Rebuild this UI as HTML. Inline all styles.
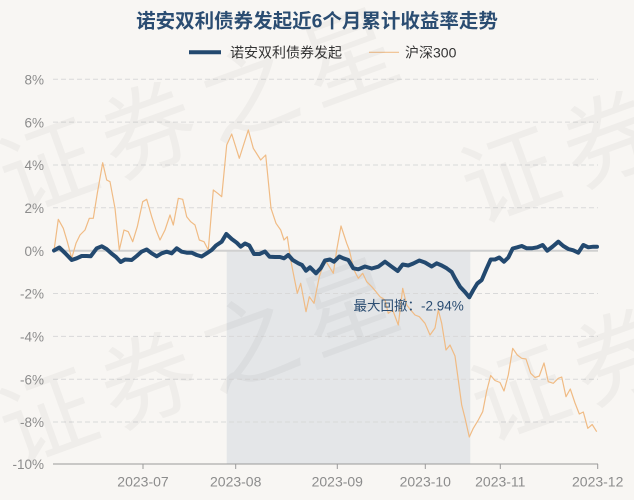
<!DOCTYPE html>
<html>
<head>
<meta charset="utf-8">
<style>
html,body{margin:0;padding:0;background:#f8f6f3;}
svg{display:block;}
text{font-family:"Liberation Sans","Noto Sans CJK SC",sans-serif;}
</style>
</head>
<body>
<svg width="634" height="500" viewBox="0 0 634 500" xmlns="http://www.w3.org/2000/svg">
<rect x="0" y="0" width="634" height="500" fill="#f8f6f3"/>

<!-- title -->
<text x="317" y="27.5" text-anchor="middle" font-size="19.5" font-weight="bold" fill="#2b4d72">诺安双利债券发起近6个月累计收益率走势</text>

<!-- legend -->
<line x1="189" y1="52.3" x2="221" y2="52.3" stroke="#23496f" stroke-width="4"/>
<text x="230" y="57.5" font-size="14" fill="#333">诺安双利债券发起</text>
<line x1="369" y1="52.3" x2="399" y2="52.3" stroke="#f0bf8c" stroke-width="1.2"/>
<text x="405" y="57.5" font-size="14" fill="#333">沪深300</text>

<!-- shaded drawdown region -->
<rect x="226.7" y="250.7" width="243.6" height="213.3" fill="#e4e6e8"/>

<!-- gridlines -->
<g stroke="#d9d9d9" stroke-width="1" stroke-dasharray="5,3">
<line x1="53" y1="79.3" x2="598" y2="79.3"/>
<line x1="53" y1="122.1" x2="598" y2="122.1"/>
<line x1="53" y1="165" x2="598" y2="165"/>
<line x1="53" y1="207.8" x2="598" y2="207.8"/>
<line x1="53" y1="293.5" x2="598" y2="293.5"/>
<line x1="53" y1="336.4" x2="598" y2="336.4"/>
<line x1="53" y1="379.2" x2="598" y2="379.2"/>
<line x1="53" y1="422" x2="598" y2="422"/>
</g>
<line x1="53" y1="250.7" x2="598" y2="250.7" stroke="#d0d0d0" stroke-width="2"/>

<!-- watermark -->
<g font-size="95" fill="#000" fill-opacity="0.035" letter-spacing="12">
<text transform="translate(14.6,215.2) rotate(-20)">证券之星</text>
<text transform="translate(14.6,465.2) rotate(-20)">证券之星</text>
<text transform="translate(476.6,224.2) rotate(-20)">证券之星</text>
<text transform="translate(486.6,442.2) rotate(-20)">证券之星</text>
</g>

<!-- x axis -->
<line x1="53" y1="464" x2="598" y2="464" stroke="#9a9a9a" stroke-width="1"/>
<g stroke="#9a9a9a" stroke-width="1">
<line x1="143" y1="464" x2="143" y2="469"/>
<line x1="235.7" y1="464" x2="235.7" y2="469"/>
<line x1="337.3" y1="464" x2="337.3" y2="469"/>
<line x1="425.3" y1="464" x2="425.3" y2="469"/>
<line x1="500.3" y1="464" x2="500.3" y2="469"/>
<line x1="597.7" y1="464" x2="597.7" y2="469"/>
</g>
<g font-size="14" fill="#8c8c8c" text-anchor="middle">
<text x="143" y="486.5">2023-07</text>
<text x="235.7" y="486.5">2023-08</text>
<text x="337.3" y="486.5">2023-09</text>
<text x="425.3" y="486.5">2023-10</text>
<text x="500.3" y="486.5">2023-11</text>
<text x="597.7" y="486.5">2023-12</text>
</g>

<!-- y labels -->
<g font-size="13.5" fill="#8c8c8c" text-anchor="end">
<text x="44" y="84.5">8%</text>
<text x="44" y="127.3">6%</text>
<text x="44" y="170.2">4%</text>
<text x="44" y="213">2%</text>
<text x="44" y="255.9">0%</text>
<text x="44" y="298.7">-2%</text>
<text x="44" y="341.6">-4%</text>
<text x="44" y="384.4">-6%</text>
<text x="44" y="427.2">-8%</text>
<text x="44" y="469.2">-10%</text>
</g>

<!-- HS300 -->
<polyline fill="none" stroke="#f0bb84" stroke-width="1.2" stroke-linejoin="round" points="
54,250.7 58.3,219.3 63.3,228.3 67.3,241.7 71.7,258.3 76,243.3 80,235 85,230 89.3,218.3 93.3,218.3
97.3,193.3 102.7,162.7 106.7,180 110,181.7 115,208.3 119.3,250 124,230 128.3,231.7 132.7,241.7 137.3,226.7
142.7,201.7 146.7,199.3 151.7,216.7 156,230 160,240 165,230 170,215 173.3,225 178.3,198.3 182.7,199.3
186.7,216.7 190.7,221.7 195,225 199.3,240 204,241.7 208.3,250 213.3,190 217.7,193.3 221.7,196.7 226.7,145
231.7,134 239.3,158.3 248.3,130 253.3,148.3 260.7,160 265.7,155 271,208.3 276,223.3 280.7,230 284,240
287.3,236.7 290.7,260 294,276.7 297.3,293.3 300.7,283.3 306,311.7 309.3,296.7 314,303.3 319.3,276.7 325,260
329.3,266.7 333.3,273.3 336.7,250 341,226 346.7,243.3 349.3,250 354,270 358.3,278.3 362.7,273.3 366.7,281.7
371.7,286.7 376,291.7 380,296.7 385,300 388.3,313.3 392.7,310 398.3,325 402.7,288.3 406.7,305 410.7,310
415,315 419.3,316.7 425,323.3 430,335 435,328 438.3,310 441.7,323.3 446,350 450,345 455,356
458.3,380 461.7,405 465,418 469.3,437 473.3,428.3 478.3,420 482.7,411.7 486.7,391 490.7,375.5 495,380.5
500,382.5 504,391 508.3,375 512.7,348.3 517.3,355 521.7,358.3 526,359 530.7,373.3 535,377.5 539.3,376
544,363 548.3,381.7 553.3,383.3 558.3,378.3 561.7,377 566,396.7 570.3,389 575,403 579.3,414 583.3,412
587.8,428.3 592.2,424.5 596.7,431.7"/>

<!-- Fund -->
<polyline fill="none" stroke="#23496f" stroke-width="4" stroke-linejoin="round" stroke-linecap="round" points="
54,250.5 59.3,247.5 65,253 71.7,260 76.7,258.3 81.7,256 86.7,256 90.7,256.3 96.7,248.3 101.7,246.3
106.5,249 111.5,253.5 116,257 120.7,262 125,259.5 131.7,260 136.7,256 141.5,251.7 146.7,249.5 151.7,253.3
156.7,256.3 161.7,253.3 166.7,251.7 171.7,253.3 176.7,248.3 181.7,251.7 186.7,252.7 191.7,252.7 196.7,255 201.7,256.5
206.7,253.3 211.7,250 216,245.5 221.7,241.7 226.3,234 231.7,239 236.7,242.7 240.7,246.7 245,243.5 249.3,245.5
254,254 259.5,254 265,251.5 269.5,256.7 275,257 280,257 284,258.3 288.3,255 292.7,260 298.3,263.3
302,265 306,270.7 310,267.3 316,273.3 320.7,268.3 325,260.5 330,259.5 334,261.7 339.3,256.5 343.3,258.3
348.3,260 353.3,268.3 358.3,269.3 365,266.5 371.7,268.5 378.3,266.7 385,261.7 391.7,266.7 397.7,271 402.7,264.5
408.3,265.5 413.3,263.5 419.3,260.5 425,262.5 431.7,266.5 436.7,263.3 441.7,265.5 446.7,268.3 451.7,272 455,278.3
460,286.7 465,292 469.3,297.3 473.3,290 477.3,283.5 481.7,280 486.7,268.3 490.7,259.5 495,259.5 499.3,257.5
504,261.7 508.3,257.5 512.7,248.5 517.3,247.3 521.7,246 526.7,248.3 531.7,248.3 537.3,247.3 542.7,245 547.3,250.7
552.7,246.5 558.3,241.7 563.3,246 568.3,249 573.3,250.3 578.3,252.7 583.3,245 588.3,247.3 593.3,246.7 597,246.7"/>

<!-- max drawdown annotation -->
<text x="353.5" y="310.5" font-size="13.5" fill="#2b4d72">最大回撤：-2.94%</text>
</svg>
</body>
</html>
